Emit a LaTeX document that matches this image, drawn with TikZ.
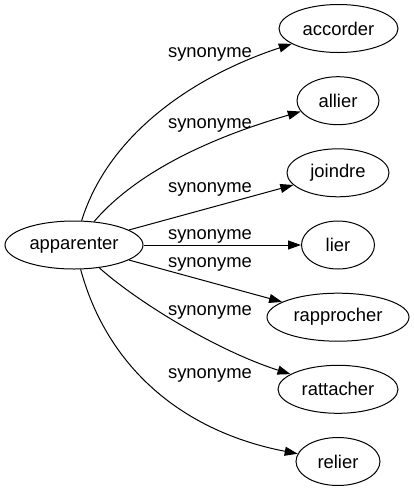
\documentclass[tikz,border=0pt]{standalone}
\usepackage{fontspec}
\setmainfont{Liberation Sans}
\usetikzlibrary{arrows.meta,shapes.geometric}
\tikzset{
  word/.style={ellipse, draw, line width=1pt, minimum height=48pt, inner sep=0pt,
    font=\fontsize{18.4}{22}\selectfont},
  syn/.style={anchor=base, inner sep=0pt, font=\fontsize{18.4}{22}\selectfont},
  link/.style={line width=1pt, -{Triangle[length=13pt,width=9pt]}}
}

\begin{document}
\begin{tikzpicture}[x=1pt,y=-1pt]
  \useasboundingbox (0,0) rectangle (414,491);

  \node[word, minimum width=138pt] (w0) at (74,245) {apparenter};

  \node[word, minimum width=119pt] (w1) at (338.5,28.5) {accorder};
  \node[word, minimum width=82pt] (w2) at (338,100.7) {allier};
  \node[word, minimum width=102pt] (w3) at (338,172.8) {joindre};
  \node[word, minimum width=73pt] (w4) at (338,245) {lier};
  \node[word, minimum width=142pt] (w5) at (338,317.2) {rapprocher};
  \node[word, minimum width=120pt] (w6) at (338,389.3) {rattacher};
  \node[word, minimum width=84pt] (w7) at (338,461.5) {relier};

  % edges
  \draw[link] (w0) .. controls (110,130) and (200,74) .. (w1);
  \draw[link] (w0) .. controls (140,168) and (220,135) .. (w2);
  \draw[link] (w0) -- (w3);
  \draw[link] (w0) -- (w4);
  \draw[link] (w0) -- (w5);
  \draw[link] (w0) .. controls (135,300) and (215,350) .. (w6);
  \draw[link] (w0) .. controls (108,370) and (185,432) .. (w7);

  % edge labels
  \node[syn] (s1) at (210,57) {synonyme};
  \node[syn] (s2) at (210,128) {synonyme};
  \node[syn] (s3) at (210,192) {synonyme};
  \node[syn] (s4) at (210,239) {synonyme};
  \node[syn] (s5) at (210,267) {synonyme};
  \node[syn] (s6) at (210,315) {synonyme};
  \node[syn] (s7) at (210,378) {synonyme};
\end{tikzpicture}
\end{document}
